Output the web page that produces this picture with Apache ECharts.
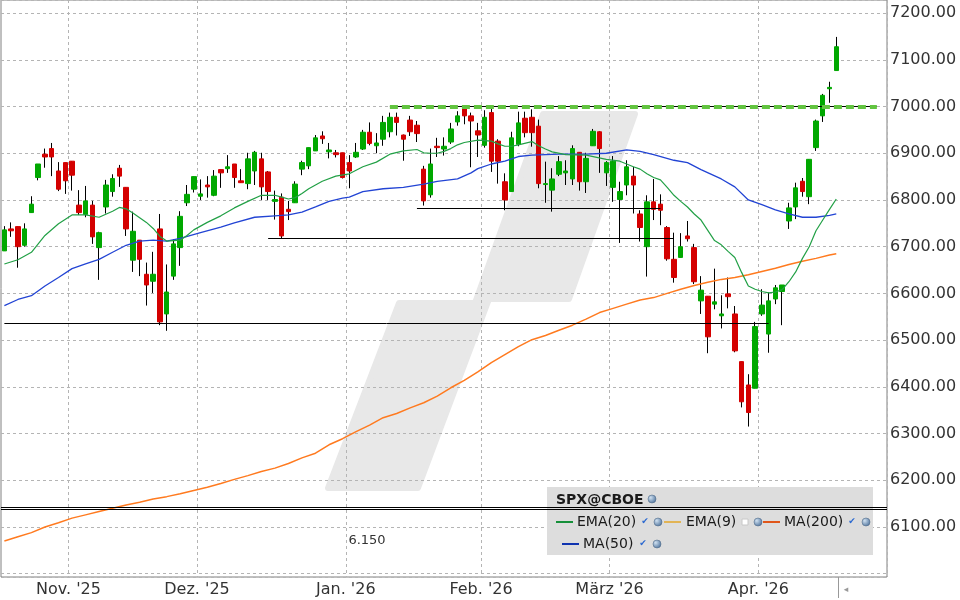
<!DOCTYPE html>
<html><head><meta charset="utf-8">
<script src="https://cdn.jsdelivr.net/npm/echarts@6/dist/echarts.min.js"></script>
<style>html,body{margin:0;padding:0;background:#fff}#c{width:960px;height:600px}</style>
</head><body><div id="c"></div>
<script>
// trading days per month
const tradingDays = {
  '2025-10': [20,21,22,23,24,27,28,29,30,31],
  '2025-11': [3,4,5,6,7,10,11,12,13,14,17,18,19,20,21,24,25,26,28],
  '2025-12': [1,2,3,4,5,8,9,10,11,12,15,16,17,18,19,22,23,24,26,29,30,31],
  '2026-01': [2,5,6,7,8,9,12,13,14,15,16,20,21,22,23,26,27,28,29,30],
  '2026-02': [2,3,4,5,6,9,10,11,12,13,17,18,19,20,23,24,25,26,27],
  '2026-03': [2,3,4,5,6,9,10,11,12,13,16,17,18,19,20,23,24,25,26,27,30,31],
  '2026-04': [1,2,6,7,8,9,10,13,14,15,16,17]
};
const monthLabels = {
  '2025-11-03': "Nov. '25", '2025-12-01': "Dez. '25", '2026-01-02': "Jan. '26",
  '2026-02-02': "Feb. '26", '2026-03-02': "März '26", '2026-04-01': "Apr. '26"
};
const emptySlots = 7;
// [open, close, low, high]
const ohlc = [
[6691,6736,6691,6744],[6738,6734,6721,6752],[6743,6700,6655,6743],[6703,6738,6700,6750],[6773,6791,6773,6808],
[6848,6877,6842,6877],[6898,6892,6869,6910],[6910,6892,6851,6922],[6862,6823,6819,6881],[6880,6841,6813,6880],
[6883,6853,6820,6883],[6789,6773,6768,6821],[6769,6798,6763,6830],[6789,6721,6706,6798],[6698,6730,6629,6732],
[6785,6832,6771,6843],[6818,6846,6807,6855],[6868,6851,6828,6875],[6827,6738,6723,6827],[6671,6733,6646,6775],
[6714,6673,6637,6714],[6641,6618,6574,6666],[6626,6641,6601,6689],[6738,6539,6532,6770],[6556,6603,6520,6662],
[6637,6706,6629,6716],[6698,6765,6659,6776],[6794,6812,6787,6832],[6823,6850,6816,6850],[6808,6813,6800,6844],
[6832,6828,6805,6851],[6810,6851,6808,6864],[6865,6858,6826,6865],[6867,6871,6858,6896],[6877,6848,6826,6877],
[6841,6837,6837,6866],[6835,6888,6823,6901],[6862,6902,6832,6905],[6888,6828,6800,6901],[6860,6818,6800,6862],
[6797,6801,6758,6820],[6806,6723,6718,6814],[6780,6775,6757,6798],[6794,6834,6794,6840],[6866,6880,6853,6884],
[6873,6912,6866,6912],[6905,6933,6905,6939],[6937,6931,6920,6947],[6903,6907,6889,6922],[6901,6897,6891,6907],
[6901,6848,6846,6901],[6880,6862,6825,6896],[6892,6902,6890,6922],[6909,6945,6907,6950],[6945,6921,6917,6966],
[6916,6922,6900,6943],[6930,6966,6916,6980],[6946,6977,6934,6987],[6977,6966,6938,6987],[6939,6930,6884,6940],
[6971,6946,6937,6980],[6960,6942,6924,6969],[6866,6798,6788,6873],[6811,6877,6805,6910],[6915,6912,6892,6933],
[6909,6915,6895,6934],[6924,6952,6920,6965],[6967,6980,6959,6990],[7002,6980,6962,7003],[6980,6969,6870,6987],
[6948,6939,6892,6965],[6917,6977,6912,6992],[6987,6883,6860,6996],[6926,6883,6835,6930],[6839,6800,6778,6857],
[6818,6933,6818,6946],[6919,6965,6915,6989],[6975,6944,6934,6989],[6977,6944,6914,6994],[6958,6835,6825,6972],
[6833,6835,6794,6882],[6821,6845,6775,6868],[6855,6882,6851,6894],[6858,6862,6832,6885],[6845,6910,6832,6917],
[6902,6839,6820,6902],[6839,6889,6815,6901],[6916,6947,6916,6952],[6946,6910,6858,6947],[6858,6880,6830,6883],
[6827,6883,6796,6894],[6801,6818,6708,6839],[6832,6871,6810,6885],[6851,6832,6771,6871],[6770,6741,6711,6778],
[6700,6796,6636,6810],[6796,6780,6757,6845],[6791,6778,6746,6812],[6741,6674,6670,6744],[6673,6634,6623,6730],
[6677,6700,6677,6729],[6723,6717,6711,6755],[6698,6625,6620,6706],[6584,6607,6556,6637],[6594,6507,6472,6594],
[6577,6582,6566,6653],[6552,6556,6525,6596],[6599,6593,6568,6634],[6556,6477,6474,6573],[6454,6368,6356,6454],
[6404,6345,6315,6427],[6397,6529,6397,6539],[6556,6575,6552,6609],[6513,6584,6473,6602],[6588,6612,6577,6618],
[6604,6618,6532,6618],[6755,6783,6738,6794],[6785,6826,6759,6837],[6840,6818,6807,6847],[6807,6887,6791,6887],
[6912,6969,6905,6972],[6980,7024,6967,7027],[7038,7041,7008,7053],[7077,7128,7077,7149]
];
// moving averages: [candle index, value]
const ema20 = [[0,6663],[2,6672],[4,6688],[6,6724],[8,6749],[10,6768],[12,6768],[14,6763],[16,6776],[17,6784],[18,6781],[19,6772],[20,6762],[21,6752],[22,6739],[23,6722],[24,6712],[26,6714],[27,6724],[28,6736],[30,6752],[32,6766],[34,6783],[36,6797],[38,6810],[40,6810],[41,6806],[42,6802],[43,6805],[44,6814],[45,6824],[47,6840],[49,6851],[51,6856],[53,6871],[55,6881],[57,6898],[59,6905],[61,6908],[62,6901],[63,6900],[64,6900],[65,6904],[66,6910],[67,6918],[68,6923],[70,6928],[72,6926],[73,6920],[74,6915],[75,6915],[76,6918],[78,6925],[79,6916],[80,6909],[81,6903],[83,6897],[86,6896],[89,6887],[91,6883],[93,6871],[94,6866],[95,6856],[96,6848],[97,6843],[98,6827],[99,6810],[100,6797],[101,6785],[102,6770],[103,6757],[104,6735],[105,6713],[106,6704],[107,6690],[108,6677],[109,6645],[110,6616],[111,6609],[112,6604],[113,6601],[114,6603],[115,6608],[116,6625],[117,6646],[118,6675],[119,6700],[120,6734],[121,6757],[122,6780],[123,6802]];
const ma50 = [[0,6574],[2,6587],[4,6595],[6,6616],[8,6634],[10,6653],[12,6663],[14,6673],[16,6688],[18,6703],[20,6712],[22,6714],[24,6712],[26,6718],[29,6730],[32,6742],[34,6751],[37,6763],[40,6766],[42,6768],[44,6774],[46,6785],[48,6797],[50,6804],[51,6806],[53,6818],[56,6824],[59,6827],[62,6834],[64,6840],[67,6845],[69,6858],[70,6867],[72,6877],[74,6883],[76,6893],[78,6896],[82,6898],[86,6898],[89,6900],[92,6907],[94,6904],[96,6897],[99,6885],[101,6880],[103,6865],[106,6845],[108,6828],[110,6800],[112,6790],[114,6779],[116,6770],[118,6763],[120,6763],[122,6767],[123,6770]];
const ma200 = [[0,6070],[2,6079],[4,6088],[6,6100],[8,6109],[10,6119],[12,6126],[14,6133],[16,6140],[18,6147],[20,6153],[22,6160],[24,6165],[26,6171],[28,6178],[30,6185],[32,6193],[34,6202],[36,6210],[38,6219],[40,6226],[42,6236],[44,6248],[46,6258],[48,6276],[50,6289],[52,6304],[54,6318],[56,6334],[58,6343],[60,6355],[62,6366],[64,6380],[66,6398],[68,6414],[70,6432],[72,6452],[74,6469],[76,6486],[78,6501],[80,6510],[82,6521],[84,6532],[86,6545],[88,6559],[90,6568],[92,6577],[94,6586],[96,6591],[98,6600],[100,6609],[102,6617],[104,6624],[106,6630],[108,6634],[110,6640],[112,6647],[114,6654],[116,6662],[118,6669],[120,6675],[122,6682],[123,6685]];
// horizontal levels: [from index, to index, value]
const supportLines = [[0,113,6536],[39,99,6719],[61,97,6782]];
const resistanceLine = [57,129,7000];
const doubleLine = [6143, 6137];
const doubleLineLabel = '6.150';
const yLabelRange = [6100, 7200];

const categories = [];
Object.keys(tradingDays).forEach(m => tradingDays[m].forEach(d => categories.push(m + '-' + String(d).padStart(2,'0'))));
for (let i = 0; i < emptySlots; i++) categories.push('x' + i);
const bodies = ohlc.map(([o,c]) => [o, c, Math.min(o,c), Math.max(o,c)]);

const FONT = 'DejaVu Sans';
const UP = '#00a800', DOWN = '#d40000';
const isMonth = (i, v) => Object.prototype.hasOwnProperty.call(monthLabels, v);

const chart = echarts.init(document.getElementById('c'), null, {renderer: 'canvas'});
const levelMarks = supportLines.map(([a,b,v]) => [{coord:[a,v]},{coord:[b,v]}]);
levelMarks.push([{coord:[resistanceLine[0],resistanceLine[2]]},{coord:[resistanceLine[1],resistanceLine[2]]}]);
doubleLine.forEach(v => levelMarks.push([{coord:[0,v], x: 1},{coord:[categories.length-1,v], x: 887}]));

const globe = (x, y) => ({type:'circle', shape:{cx:x, cy:y, r:4}, z:10,
  style:{fill:new echarts.graphic.RadialGradient(0.35,0.35,0.8,[{offset:0,color:'#cfe0f0'},{offset:1,color:'#3d6491'}]), stroke:'#556f8c', lineWidth:0.6}});
const check = (x, y) => ({type:'text', x, y, z:10, style:{text:'✔', font:'9px ' + FONT, fill:'#2a68d0', align:'center', verticalAlign:'middle'}});
const ltext = (x, y, t, bold) => ({type:'text', x, y, z:10, style:{text:t, font:(bold?'bold ':'') + '14px ' + FONT, fill:'#1a1a1a', align:'left', verticalAlign:'middle'}});
const lline = (x1, x2, y, c) => ({type:'line', z:10, shape:{x1, y1:y, x2, y2:y}, style:{stroke:c, lineWidth:2}});

chart.setOption({
  animation: false,
  backgroundColor: '#ffffff',
  grid: {left: 1, right: 73, top: 0, bottom: 23, show: true, borderColor: '#808080', borderWidth: 1, outerBoundsMode: 'none'},
  xAxis: {
    type: 'category', data: categories, boundaryGap: true,
    axisLine: {show: false}, axisTick: {show: false},
    axisLabel: {interval: isMonth, formatter: v => monthLabels[v] || '', fontFamily: FONT, fontSize: 16, color: '#333', margin: 5, padding: [0, 7, 0, 0]},
    splitLine: {show: true, interval: isMonth, lineStyle: {color: '#b4b4b4', type: [3, 3], width: 1}}
  },
  yAxis: {
    type: 'value', position: 'right', min: 5993, max: 7228, minInterval: 100, maxInterval: 100,
    axisLine: {show: false}, axisTick: {show: false},
    axisLabel: {showMinLabel: false, showMaxLabel: false, fontFamily: FONT, fontSize: 16, color: '#333', margin: 3,
      formatter: v => (v >= yLabelRange[0] && v <= yLabelRange[1]) ? v.toFixed(2) : ''},
    splitLine: {show: true, lineStyle: {color: '#b4b4b4', type: [3, 3], width: 1}}
  },
  series: [
    {type: 'candlestick', name: 'wick', data: ohlc, barWidth: 1, z: 2, silent: true,
     itemStyle: {color: '#000', color0: '#000', borderColor: '#000', borderColor0: '#000', borderColorDoji: '#000', borderWidth: 1}},
    {type: 'candlestick', name: 'SPX@CBOE', data: bodies, barWidth: 5, z: 3, silent: true,
     itemStyle: {color: UP, color0: DOWN, borderColor: UP, borderColor0: DOWN, borderColorDoji: UP, borderWidth: 1}},
    {type: 'line', name: 'MA(200)', data: ma200, showSymbol: false, z: 4, silent: true, lineStyle: {color: '#ff7a1f', width: 1.5}},
    {type: 'line', name: 'MA(50)', data: ma50, showSymbol: false, z: 4, silent: true, lineStyle: {color: '#2244d4', width: 1.3}},
    {type: 'line', name: 'EMA(20)', data: ema20, showSymbol: false, z: 4, silent: true, lineStyle: {color: '#22a046', width: 1.2}},
    {type: 'line', name: 'levels', data: [], z: 5, silent: true,
     markLine: {silent: true, symbol: ['none','none'], label: {show: false}, lineStyle: {color: '#000', width: 1, type: 'solid'},
       data: levelMarks}},
    {type: 'line', name: 'res', data: [], z: 6, silent: true,
     markLine: {silent: true, symbol: ['none','none'], label: {show: false},
       lineStyle: {color: '#62c440', width: 4, type: [8, 4], opacity: 1},
       emphasis: {disabled: true},
       data: [[{coord:[resistanceLine[0],resistanceLine[2]]},{coord:[resistanceLine[1],resistanceLine[2]]}]]}}
  ],
  graphic: [
    {type: 'polygon', z: -1, shape: {points: [[543,114],[635,114],[569,299],[489,299],[418,488],[328,488],[399,303],[475,303]]},
     style: {fill: '#e8e8e8', stroke: '#e8e8e8', lineWidth: 6, lineJoin: 'round'}},
    {type: 'rect', z: 1, shape: {x: 547, y: 487, width: 326, height: 68}, style: {fill: '#dddddd'}},
    ltext(556, 500, 'SPX@CBOE', true), globe(652, 499),
    lline(556, 573, 522, '#16903a'), ltext(577, 522, 'EMA(20)'), check(645, 522), globe(658, 522),
    lline(664, 681, 522, '#e2b455'), ltext(686, 522, 'EMA(9)'),
    {type: 'rect', z: 10, shape: {x: 742, y: 519, width: 6, height: 6}, style: {fill: '#fff', stroke: '#c8c8c8', lineWidth: 1}},
    globe(758, 522),
    lline(763, 780, 522, '#e0561a'), ltext(784, 522, 'MA(200)'), check(852, 522), globe(866, 522),
    lline(562, 579, 544, '#1034b0'), ltext(583, 544, 'MA(50)'), check(643, 544), globe(657, 544),
    {type: 'text', x: 367, y: 541, z: 10, style: {text: doubleLineLabel, font: '13px ' + FONT, fill: '#333', align: 'center', verticalAlign: 'middle'}},
    {type: 'line', z: 10, shape: {x1: 838.5, y1: 577, x2: 838.5, y2: 598}, style: {stroke: '#999', lineWidth: 1}},
    {type: 'text', x: 846, y: 590, z: 10, style: {text: '◂', font: '9px ' + FONT, fill: '#999', align: 'center', verticalAlign: 'middle'}}
  ]
});
</script></body></html>
